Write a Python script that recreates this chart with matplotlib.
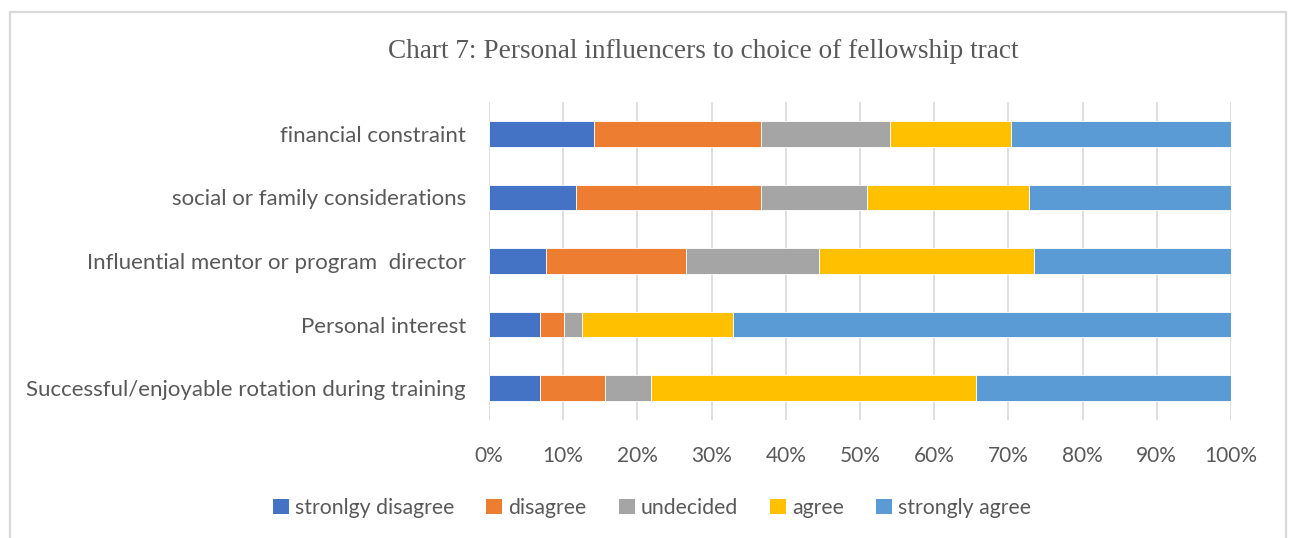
import matplotlib
matplotlib.use("Agg")
import matplotlib.pyplot as plt
from matplotlib.patches import Rectangle, Patch
from matplotlib.ticker import FuncFormatter, MultipleLocator

categories = [
    "Successful/enjoyable rotation during training",
    "Personal interest",
    "Influential mentor or program  director",
    "social or family considerations",
    "financial constraint",
]
series_names = ["stronlgy disagree", "disagree", "undecided", "agree", "strongly agree"]
strongly_disagree = [6.9, 6.9, 7.7, 11.7, 14.1]
disagree = [8.7, 3.2, 18.9, 25.0, 22.6]
undecided = [6.3, 2.4, 17.9, 14.2, 17.3]
agree = [43.8, 20.4, 29.0, 21.9, 16.4]
strongly_agree = [34.3, 67.1, 26.5, 27.2, 29.6]
colors = ["#4472C4", "#ED7D31", "#A5A5A5", "#FFC000", "#5B9BD5"]

title = "Chart 7: Personal influencers to choice of fellowship tract"

W, H = 1290, 538
fig = plt.figure(figsize=(W / 100, H / 100), dpi=100)
fig.patch.set_facecolor("white")

# chart border
fig.patches.append(Rectangle((9.5 / W, -0.1), (1286 - 9.5) / W, 1.1 - 12 / H,
                             transform=fig.transFigure, fill=False,
                             edgecolor="#d9d9d9", linewidth=1.6))

ax = fig.add_axes([489 / W, 1 - 420 / H, 742 / W, 318 / H])
series = [strongly_disagree, disagree, undecided, agree, strongly_agree]
totals = [sum(v) for v in zip(*series)]
left = [0.0] * len(categories)
ypos = list(range(len(categories)))
for name, vals, c in zip(series_names, series, colors):
    pct = [v / t for v, t in zip(vals, totals)]
    ax.barh(ypos, pct, left=left, height=0.4, color=c, edgecolor="white",
            linewidth=0.6, label=name, zorder=3)
    left = [l + p for l, p in zip(left, pct)]

ax.set_xlim(0, 1)
ax.set_ylim(-0.5, len(categories) - 0.5)
ax.xaxis.set_major_locator(MultipleLocator(0.1))
ax.xaxis.set_major_formatter(FuncFormatter(lambda x, p: f"{x*100:.0f}%"))
ax.grid(axis="x", color="#d9d9d9", linewidth=1.2, zorder=0)
for s in ax.spines.values():
    s.set_visible(False)
ax.set_yticks(ypos)
ax.set_yticklabels(categories)
ax.tick_params(axis="both", length=0, colors="#595959")
ax.tick_params(axis="x", pad=19, labelsize=15)
ax.tick_params(axis="y", pad=16.5, labelsize=16)
for t in ax.get_xticklabels() + ax.get_yticklabels():
    t.set_fontfamily("Lato")
    t.set_color("#595959")

fig.text(703 / W, 1 - 52 / H, title, ha="center", va="center",
         fontsize=19.6, family="Liberation Serif", color="#595959")

handles = [Patch(facecolor=c, edgecolor="none") for c in colors]
fig.legend(handles, series_names, loc="center", bbox_to_anchor=(652 / W, 1 - 508 / H),
           ncol=5, frameon=False, handlelength=0.75, handleheight=0.75,
           handletextpad=0.3, columnspacing=1.5,
           prop={"family": "Lato", "size": 15.3}, labelcolor="#595959")

fig.savefig("out.png", dpi=100, facecolor="white")
